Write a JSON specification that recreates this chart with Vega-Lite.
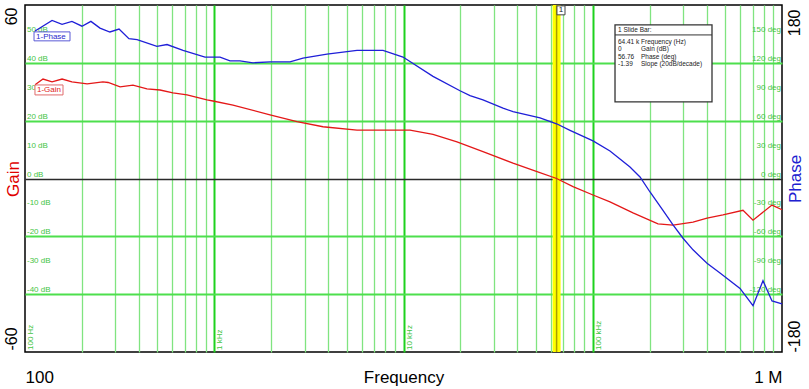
{
  "$schema": "https://vega.github.io/schema/vega-lite/v6.json",
  "width": 757,
  "height": 347,
  "autosize": "none",
  "padding": {"left": 25, "top": 5, "right": 27, "bottom": 37},
  "background": "white",
  "config": {
    "view": {"stroke": "#000000", "strokeWidth": 1.5},
    "font": "Liberation Sans",
    "text": {"font": "Liberation Sans"}
  },
  "datasets": {
    "gain": [
      {"f": 113, "v": 32.4}, {"f": 124.5, "v": 34.4}, {"f": 139, "v": 33.4}, {"f": 157, "v": 34.4},
      {"f": 177, "v": 33.4}, {"f": 213, "v": 32.7}, {"f": 258, "v": 33.4}, {"f": 275, "v": 33.2},
      {"f": 318, "v": 31.7}, {"f": 372, "v": 32.3}, {"f": 441, "v": 31.0}, {"f": 517, "v": 30.6},
      {"f": 605, "v": 29.6}, {"f": 718, "v": 28.9}, {"f": 916, "v": 27.2}, {"f": 985, "v": 26.8},
      {"f": 1256, "v": 25.4}, {"f": 1970, "v": 22.0}, {"f": 2736, "v": 19.7}, {"f": 3755, "v": 17.9},
      {"f": 5679, "v": 16.7}, {"f": 10822, "v": 16.7}, {"f": 14318, "v": 15.3}, {"f": 19170, "v": 12.7},
      {"f": 26300, "v": 9.3}, {"f": 37890, "v": 5.3}, {"f": 50760, "v": 2.4}, {"f": 64410, "v": 0},
      {"f": 78650, "v": -2.8}, {"f": 100300, "v": -5.7}, {"f": 123330, "v": -8.1}, {"f": 163200, "v": -11.9},
      {"f": 221200, "v": -15.7}, {"f": 265500, "v": -16.1}, {"f": 338700, "v": -15.1}, {"f": 401600, "v": -13.7},
      {"f": 487700, "v": -12.6}, {"f": 622200, "v": -11.0}, {"f": 702800, "v": -14.4}, {"f": 885400, "v": -9.2},
      {"f": 1000000, "v": -10.8}
    ],
    "phase": [
      {"f": 113, "v": 153}, {"f": 139, "v": 164}, {"f": 157, "v": 160}, {"f": 177, "v": 163},
      {"f": 200, "v": 158}, {"f": 223, "v": 163}, {"f": 249, "v": 156}, {"f": 281, "v": 152},
      {"f": 314, "v": 155}, {"f": 354, "v": 145}, {"f": 391, "v": 144}, {"f": 498, "v": 137},
      {"f": 563, "v": 139}, {"f": 684, "v": 133}, {"f": 894, "v": 126}, {"f": 1073, "v": 126},
      {"f": 1211, "v": 122}, {"f": 1368, "v": 122}, {"f": 1602, "v": 120}, {"f": 1970, "v": 121},
      {"f": 2514, "v": 121}, {"f": 2944, "v": 125}, {"f": 3943, "v": 129}, {"f": 5679, "v": 133},
      {"f": 7795, "v": 133}, {"f": 9940, "v": 126}, {"f": 14318, "v": 106}, {"f": 19887, "v": 91},
      {"f": 22460, "v": 86}, {"f": 26300, "v": 81.5}, {"f": 33560, "v": 73}, {"f": 37890, "v": 69.3},
      {"f": 52640, "v": 63}, {"f": 64410, "v": 56.76}, {"f": 75820, "v": 50}, {"f": 100300, "v": 39},
      {"f": 123330, "v": 28.6}, {"f": 157300, "v": 12}, {"f": 177700, "v": 1.6}, {"f": 200700, "v": -14},
      {"f": 235000, "v": -33}, {"f": 265500, "v": -48}, {"f": 299900, "v": -62}, {"f": 338700, "v": -74},
      {"f": 401600, "v": -88}, {"f": 470400, "v": -98}, {"f": 600000, "v": -114}, {"f": 702800, "v": -132},
      {"f": 793600, "v": -106}, {"f": 885400, "v": -127}, {"f": 1000000, "v": -130}
    ],
    "dblab": [
      {"v": 50, "t": "50 dB"}, {"v": 40, "t": "40 dB"}, {"v": 30, "t": "30 dB"}, {"v": 20, "t": "20 dB"},
      {"v": 10, "t": "10 dB"}, {"v": 0, "t": "0 dB"}, {"v": -10, "t": "-10 dB"}, {"v": -20, "t": "-20 dB"},
      {"v": -30, "t": "-30 dB"}, {"v": -40, "t": "-40 dB"}
    ],
    "deglab": [
      {"v": 150, "t": "150 deg"}, {"v": 120, "t": "120 deg"}, {"v": 90, "t": "90 deg"}, {"v": 60, "t": "60 deg"},
      {"v": 30, "t": "30 deg"}, {"v": 0, "t": "0 deg"}, {"v": -30, "t": "-30 deg"}, {"v": -60, "t": "-60 deg"},
      {"v": -90, "t": "-90 deg"}, {"v": -120, "t": "-120 deg"}
    ],
    "flab": [
      {"f": 100, "t": "100 Hz"}, {"f": 1000, "t": "1 kHz"}, {"f": 10000, "t": "10 kHz"}, {"f": 100000, "t": "100 kHz"}
    ],
    "tags": [
      {"t": "1-Phase", "c": "phase", "f1": 111.6, "f2": 172.9, "v1": 50.7, "v2": 47.6, "vm": 49.1},
      {"t": "1-Gain", "c": "gain", "f1": 112.9, "f2": 158.8, "v1": 32.35, "v2": 28.9, "vm": 30.6}
    ],
    "box": [{"f1": 131100, "f2": 426700, "v1": 53.1, "v2": 26.5, "v": 49.65}],
    "info": [
      {"f": 135900, "v": 51.4, "t": "1  Slide Bar:"},
      {"f": 135900, "v": 47.1, "t": "64.41 k"}, {"f": 179900, "v": 47.1, "t": "Frequency (Hz)"},
      {"f": 135900, "v": 44.7, "t": "0"}, {"f": 179900, "v": 44.7, "t": "Gain (dB)"},
      {"f": 135900, "v": 42.0, "t": "56.76"}, {"f": 179900, "v": 42.0, "t": "Phase (deg)"},
      {"f": 135900, "v": 39.5, "t": "-1.39"}, {"f": 179900, "v": 39.5, "t": "Slope (20dB/decade)"}
    ],
    "mk": [{"f1": 64700, "f2": 71350, "v1": 59.7, "v2": 56.6, "f": 67900, "v": 58.15, "t": "1"}]
  },
  "layer": [
    {
      "layer": [
        {
          "data": {"name": "dblab"},
          "mark": {"type": "text", "align": "left", "baseline": "alphabetic", "dx": 2, "dy": -2, "fontSize": 8, "color": "#44c444"},
          "encoding": {
            "x": {
              "datum": 100, "type": "quantitative",
              "scale": {"type": "log", "domain": [100, 1000000], "nice": false},
              "axis": {
                "values": [100, 200, 300, 400, 500, 600, 700, 800, 900, 1000, 2000, 3000, 4000, 5000, 6000, 7000, 8000, 9000, 10000, 20000, 30000, 40000, 50000, 60000, 70000, 80000, 90000, 100000, 200000, 300000, 400000, 500000, 600000, 700000, 800000, 900000, 1000000],
                "grid": true,
                "gridColor": {"condition": {"test": "indexof([100, 1000, 10000, 100000, 1000000], datum.value) >= 0", "value": "#1ed21e"}, "value": "#80e480"},
                "gridWidth": {"condition": {"test": "indexof([100, 1000, 10000, 100000, 1000000], datum.value) >= 0", "value": 2}, "value": 1.3},
                "gridOpacity": {"condition": {"test": "datum.value == 100 || datum.value == 1000000", "value": 0}, "value": 1},
                "domain": false, "ticks": false, "tickSize": 0,
                "labelExpr": "datum.value == 100 ? '100' : datum.value == 1000000 ? '1 M' : ''",
                "labelFlush": true, "labelOverlap": false,
                "labelBaseline": "alphabetic", "labelPadding": 30,
                "labelFontSize": 17, "labelColor": "#000000", "labelFont": "Liberation Sans",
                "title": "Frequency", "titleFontSize": 17, "titleFontWeight": "normal", "titleColor": "#000000",
                "titleFont": "Liberation Sans", "titleBaseline": "alphabetic", "titleAlign": "center",
                "titleX": 378.5, "titleY": 30
              }
            },
            "y": {
              "field": "v", "type": "quantitative",
              "scale": {"domain": [-60, 60], "nice": false, "zero": false},
              "axis": {
                "values": [-60, -50, -40, -30, -20, -10, 0, 10, 20, 30, 40, 50, 60],
                "grid": true,
                "gridColor": {"condition": {"test": "datum.value == 0", "value": "#2a2a2a"}, "value": "#4ddf4d"},
                "gridWidth": {"condition": {"test": "datum.value == 0", "value": 1.5}, "value": 2},
                "gridOpacity": {"condition": {"test": "abs(datum.value) == 60", "value": 0}, "value": 1},
                "domain": false, "ticks": false, "tickSize": 0,
                "labelExpr": "datum.value == 60 ? '60' : datum.value == -60 ? '-60' : ''",
                "labelOverlap": false,
                "labelAngle": 270,
                "labelAlign": {"condition": {"test": "datum.value > 0", "value": "right"}, "value": "left"},
                "labelBaseline": "alphabetic",
                "labelOffset": {"condition": {"test": "datum.value > 0", "value": 2}, "value": -2},
                "labelPadding": 9,
                "labelFontSize": 16, "labelColor": "#000000", "labelFont": "Liberation Sans",
                "title": "Gain", "titleColor": "#e00000", "titleFontSize": 17, "titleFontWeight": "normal",
                "titleFont": "Liberation Sans", "titleAngle": 270, "titleBaseline": "alphabetic", "titleAlign": "center",
                "titleX": -7, "titleY": 173.5
              }
            },
            "text": {"field": "t"}
          }
        },
        {
          "data": {"values": [{"f": 64410}]},
          "mark": {"type": "rule", "color": "#ffff00", "strokeWidth": 8},
          "encoding": {"x": {"field": "f", "type": "quantitative"}}
        },
        {
          "data": {"values": [{"f": 64410}]},
          "mark": {"type": "rule", "color": "#a89e00", "strokeWidth": 1.5},
          "encoding": {"x": {"field": "f", "type": "quantitative"}}
        },
        {
          "data": {"name": "flab"},
          "mark": {"type": "text", "align": "left", "baseline": "top", "angle": 270, "dx": 2, "dy": 2, "fontSize": 8, "color": "#44c444"},
          "encoding": {
            "x": {"field": "f", "type": "quantitative"},
            "y": {"datum": -60, "type": "quantitative"},
            "text": {"field": "t"}
          }
        },
        {
          "data": {"name": "gain"},
          "mark": {"type": "line", "color": "#e41818", "strokeWidth": 1.3},
          "encoding": {
            "x": {"field": "f", "type": "quantitative"},
            "y": {"field": "v", "type": "quantitative"}
          }
        },
        {
          "data": {"name": "tags"},
          "mark": {"type": "rect", "fill": "#ffffff", "strokeWidth": 1},
          "encoding": {
            "x": {"field": "f1", "type": "quantitative"},
            "x2": {"field": "f2"},
            "y": {"field": "v1", "type": "quantitative"},
            "y2": {"field": "v2"},
            "stroke": {"field": "c", "type": "nominal", "scale": {"domain": ["gain", "phase"], "range": ["#e06a6a", "#5a5ad6"]}, "legend": null}
          }
        },
        {
          "data": {"name": "tags"},
          "mark": {"type": "text", "align": "left", "baseline": "middle", "dx": 2, "fontSize": 8},
          "encoding": {
            "x": {"field": "f1", "type": "quantitative"},
            "y": {"field": "vm", "type": "quantitative"},
            "text": {"field": "t"},
            "color": {"field": "c", "type": "nominal", "scale": {"domain": ["gain", "phase"], "range": ["#e01a1a", "#2a2acc"]}, "legend": null}
          }
        },
        {
          "data": {"name": "box"},
          "mark": {"type": "rect", "fill": "#ffffff", "stroke": "#333333", "strokeWidth": 1.3},
          "encoding": {
            "x": {"field": "f1", "type": "quantitative"},
            "x2": {"field": "f2"},
            "y": {"field": "v1", "type": "quantitative"},
            "y2": {"field": "v2"}
          }
        },
        {
          "data": {"name": "box"},
          "mark": {"type": "rule", "color": "#333333", "strokeWidth": 1},
          "encoding": {
            "x": {"field": "f1", "type": "quantitative"},
            "x2": {"field": "f2"},
            "y": {"field": "v", "type": "quantitative"}
          }
        },
        {
          "data": {"name": "info"},
          "mark": {"type": "text", "align": "left", "baseline": "middle", "fontSize": 6.5, "color": "#222222"},
          "encoding": {
            "x": {"field": "f", "type": "quantitative"},
            "y": {"field": "v", "type": "quantitative"},
            "text": {"field": "t"}
          }
        },
        {
          "data": {"name": "mk"},
          "mark": {"type": "rect", "fill": "#ffffff", "stroke": "#444444", "strokeWidth": 1},
          "encoding": {
            "x": {"field": "f1", "type": "quantitative"},
            "x2": {"field": "f2"},
            "y": {"field": "v1", "type": "quantitative"},
            "y2": {"field": "v2"}
          }
        },
        {
          "data": {"name": "mk"},
          "mark": {"type": "text", "align": "center", "baseline": "middle", "fontSize": 8, "color": "#222222"},
          "encoding": {
            "x": {"field": "f", "type": "quantitative"},
            "y": {"field": "v", "type": "quantitative"},
            "text": {"field": "t"}
          }
        }
      ]
    },
    {
      "layer": [
        {
          "data": {"name": "deglab"},
          "mark": {"type": "text", "align": "right", "baseline": "alphabetic", "dx": -1, "dy": -2, "fontSize": 8, "color": "#44c444"},
          "encoding": {
            "x": {"datum": 1000000, "type": "quantitative"},
            "y": {
              "field": "v", "type": "quantitative",
              "scale": {"domain": [-180, 180], "nice": false, "zero": false},
              "axis": {
                "orient": "right",
                "values": [-180, 180],
                "grid": false, "domain": false, "ticks": false, "tickSize": 0,
                "labelExpr": "datum.value == 180 ? '180' : '-180'",
                "labelOverlap": false,
                "labelAngle": 270,
                "labelAlign": {"condition": {"test": "datum.value > 0", "value": "right"}, "value": "left"},
                "labelBaseline": "top",
                "labelOffset": {"condition": {"test": "datum.value > 0", "value": 4}, "value": 0},
                "labelPadding": 4,
                "labelFontSize": 16, "labelColor": "#000000", "labelFont": "Liberation Sans",
                "title": "Phase", "titleColor": "#2020d0", "titleFontSize": 17, "titleFontWeight": "normal",
                "titleFont": "Liberation Sans", "titleAngle": 270, "titleBaseline": "top", "titleAlign": "center",
                "titleX": 5, "titleY": 173.5
              }
            },
            "text": {"field": "t"}
          }
        },
        {
          "data": {"name": "phase"},
          "mark": {"type": "line", "color": "#1f1fd8", "strokeWidth": 1.3},
          "encoding": {
            "x": {"field": "f", "type": "quantitative"},
            "y": {"field": "v", "type": "quantitative"}
          }
        }
      ]
    }
  ],
  "resolve": {"scale": {"y": "independent"}, "axis": {"y": "independent"}}
}
